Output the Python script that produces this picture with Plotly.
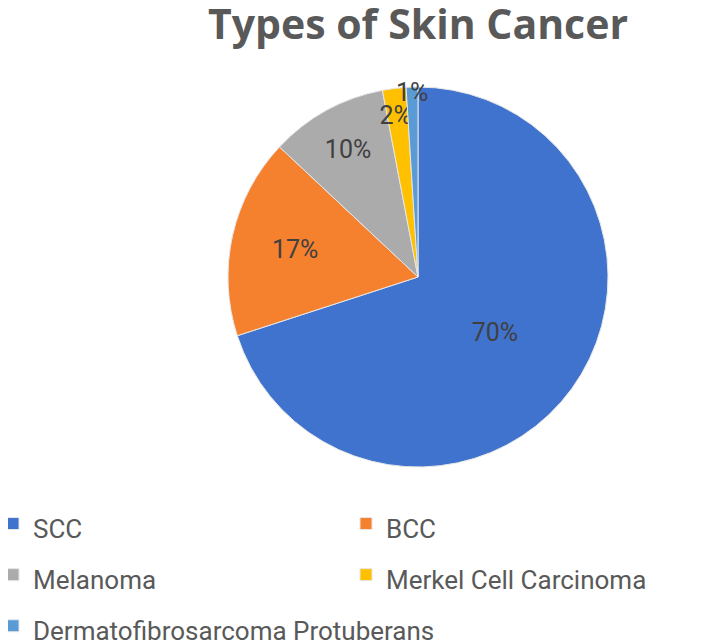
import plotly.graph_objects as go

# chart data
cancer_types = ["SCC", "BCC", "Melanoma", "Merkel Cell Carcinoma", "Dermatofibrosarcoma Protuberans"]
share_pct = [70, 17, 10, 2, 1]
slice_colors = ["#3F73CE", "#F5812E", "#ABABAB", "#FFC000", "#5B9BD5"]

# legend rows are tall in the original, so the legend font is big and the
# label itself is drawn smaller inside a span
legend_labels = ["<span style='font-size:26px'>%s</span>" % name for name in cancer_types]

# the 2% label sits a bit lower than plotly puts it (keeps it off the 1%)
pct_fmt = "%{percent:.0%}"
label_templates = [pct_fmt, pct_fmt, pct_fmt, "&nbsp;<br>" + pct_fmt, pct_fmt]

W, H = 706, 642
# page body adds an 8px offset, so figure coords = picture coords - 8
cx, cy, rad = 410, 269, 190

fig = go.Figure()

fig.add_trace(go.Pie(
    labels=legend_labels,
    values=share_pct,
    sort=False,
    direction="clockwise",
    rotation=0,
    marker=dict(colors=slice_colors, line=dict(color="#E6E6E6", width=1)),
    texttemplate=label_templates,
    textposition="inside",
    insidetextorientation="horizontal",
    textfont=dict(family="Roboto", size=25, color="#404040"),
    domain=dict(x=[(cx - rad) / W, (cx + rad) / W],
                y=[(H - cy - rad) / H, (H - cy + rad) / H]),
    hovertext=cancer_types,
    hoverinfo="text+percent",
))

fig.update_layout(
    width=W,
    height=H,
    margin=dict(l=0, r=0, t=0, b=0, autoexpand=False),
    paper_bgcolor="white",
    title=dict(
        text="<b>Types of Skin Cancer</b>",
        x=cx / W, xanchor="center",
        y=1 - 17 / H, yanchor="middle", yref="container",
        font=dict(family="Open Sans", size=41, color="#595959"),
    ),
    uniformtext=dict(minsize=25, mode="show"),
    showlegend=True,
    legend=dict(
        orientation="h",
        x=0, xanchor="left",
        y=1 - 485 / H, yanchor="top",
        entrywidth=0.5, entrywidthmode="fraction",
        indentation=-15,
        font=dict(family="Roboto", size=37, color="#595959"),
        traceorder="normal",
    ),
)

fig.write_html("out.html")
